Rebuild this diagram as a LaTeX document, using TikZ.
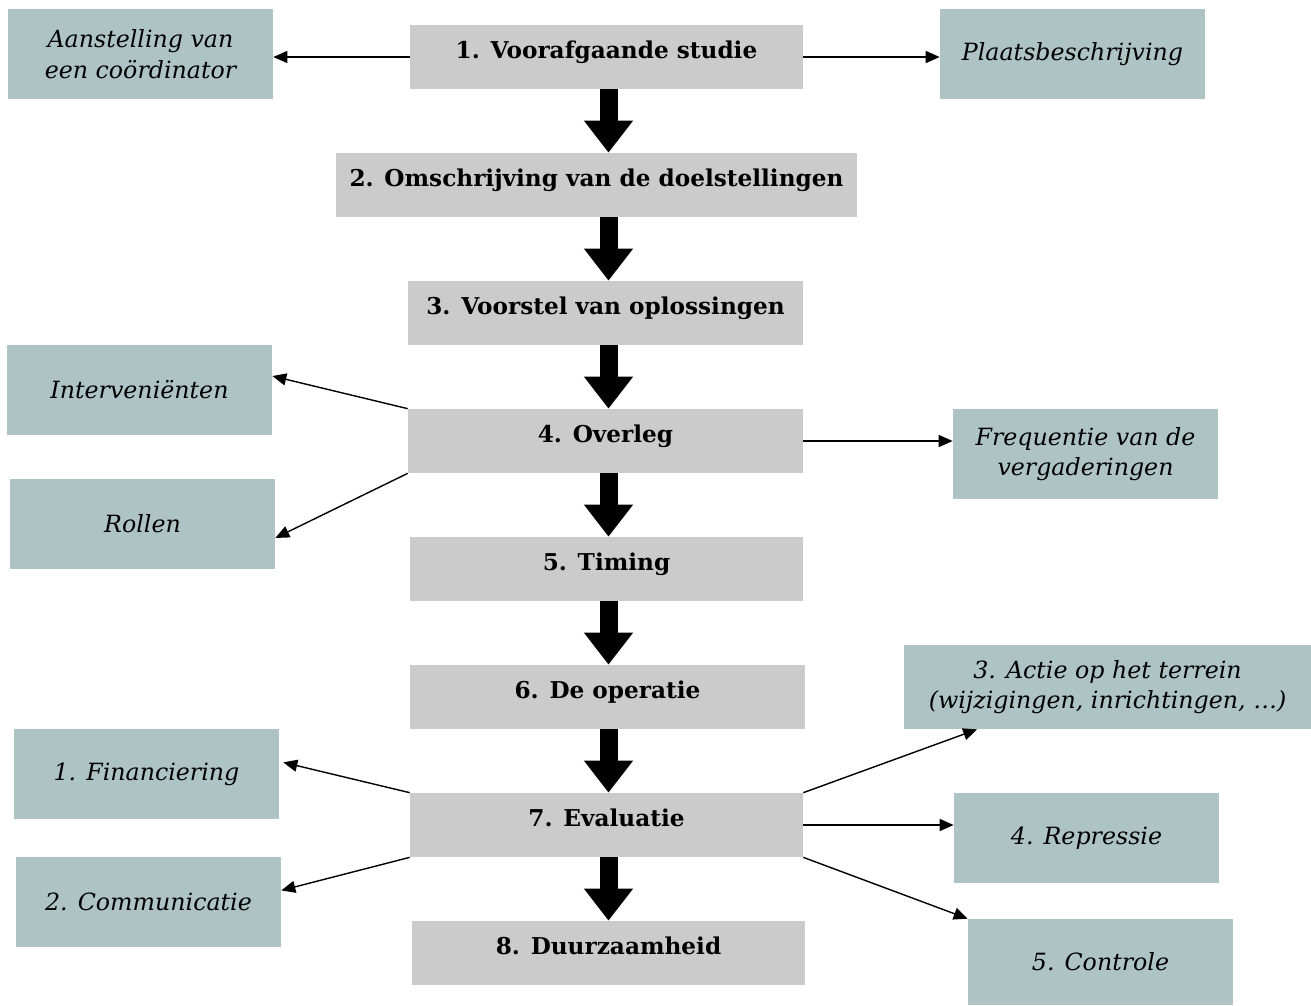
\documentclass[tikz,border=0pt]{standalone}
\usepackage{fontspec}
\setmainfont{DejaVu Serif}
\usetikzlibrary{arrows.meta}

\definecolor{stapgrijs}{RGB}{203,203,203}
\definecolor{zijblauw}{RGB}{173,195,196}

\tikzset{
  stap/.style={fill=stapgrijs, font=\bfseries\fontsize{13.2}{15}\selectfont,
    minimum width=7.86cm, text height=0.66cm, text depth=0.62cm, inner ysep=0pt},
  zijvak/.style={fill=zijblauw, font=\itshape\fontsize{13.5}{17.5}\selectfont,
    align=center, minimum width=5.3cm, minimum height=1.8cm},
  dikpijl/.style={line width=0.36cm, -{Triangle[length=0.64cm, width=0.94cm]}},
  pijl/.style={line width=0.8pt, -{Triangle[length=0.28cm, width=0.24cm]}}
}

\begin{document}
\begin{tikzpicture}[x=0.02cm, y=-0.02cm]
        \useasboundingbox (0,0) rectangle (1311,1005);

        % hoofdstappen
        \node[stap] (S1) at (606.5,57) {1. Voorafgaande studie};
        \node[stap, minimum width=10.42cm] (S2) at (596.5,185) {2. Omschrijving van de doelstellingen};
        \node[stap, minimum width=7.9cm] (S3) at (605.5,313) {3. Voorstel van oplossingen};
        \node[stap, minimum width=7.9cm] (S4) at (605.5,441) {4. Overleg};
        \node[stap] (S5) at (606.5,569) {5. Timing};
        \node[stap, minimum width=7.9cm] (S6) at (607.5,697) {6. De operatie};
        \node[stap] (S7) at (606.5,825) {7. Evaluatie};
        \node[stap] (S8) at (608.5,953) {8. Duurzaamheid};

        % dikke pijlen, allemaal op dezelfde x
        \coordinate (as) at (608.5,0);
        \foreach \a/\b in {S1/S2, S2/S3, S3/S4, S4/S5, S5/S6, S6/S7, S7/S8}
            \draw[dikpijl] (\a.south -| as) -- (\b.north -| as);

        % zijvakken
        \node[zijvak] (Aan) at (140.5,54) {Aanstelling van\\een coördinator};
        \node[zijvak] (Pla) at (1072.5,54) {Plaatsbeschrijving};
        \node[zijvak] (Int) at (139.5,390) {Interveniënten};
        \node[zijvak] (Rol) at (142.5,524) {Rollen};
        \node[zijvak] (Fre) at (1085.5,454) {Frequentie van de\\vergaderingen};
        \node[zijvak, minimum width=8.14cm, minimum height=1.68cm] (Act) at (1107.5,687)
            {3. Actie op het terrein\\(wijzigingen, inrichtingen, …)};
        \node[zijvak] (Fin) at (146.5,774) {1. Financiering};
        \node[zijvak] (Rep) at (1086.5,838) {4. Repressie};
        \node[zijvak] (Com) at (148.5,902) {2. Communicatie};
        \node[zijvak, minimum height=1.72cm] (Con) at (1100.5,962) {5. Controle};

        % dunne pijlen
        \draw[pijl] (S1.west) -- (S1.west -| Aan.east);
        \draw[pijl] (S1.east) -- (S1.east -| Pla.west);
        \draw[pijl] (S4.north west) -- (Int.6);
        \draw[pijl] (S4.south west) -- (Rol.-6);
        \draw[pijl] (S4.east) -- (S4.east -| Fre.west);
        \draw[pijl] (S7.north west) -- ([xshift=0.08cm]Fin.5);
        \draw[pijl] (S7.south west) -- (Com.5);
        \draw[pijl] (S7.north east) -- (Act.198);
        \draw[pijl] (S7.east) -- (S7.east -| Rep.west);
        \draw[pijl] (S7.south east) -- (Con.north west);

    \end{tikzpicture}
\end{document}
